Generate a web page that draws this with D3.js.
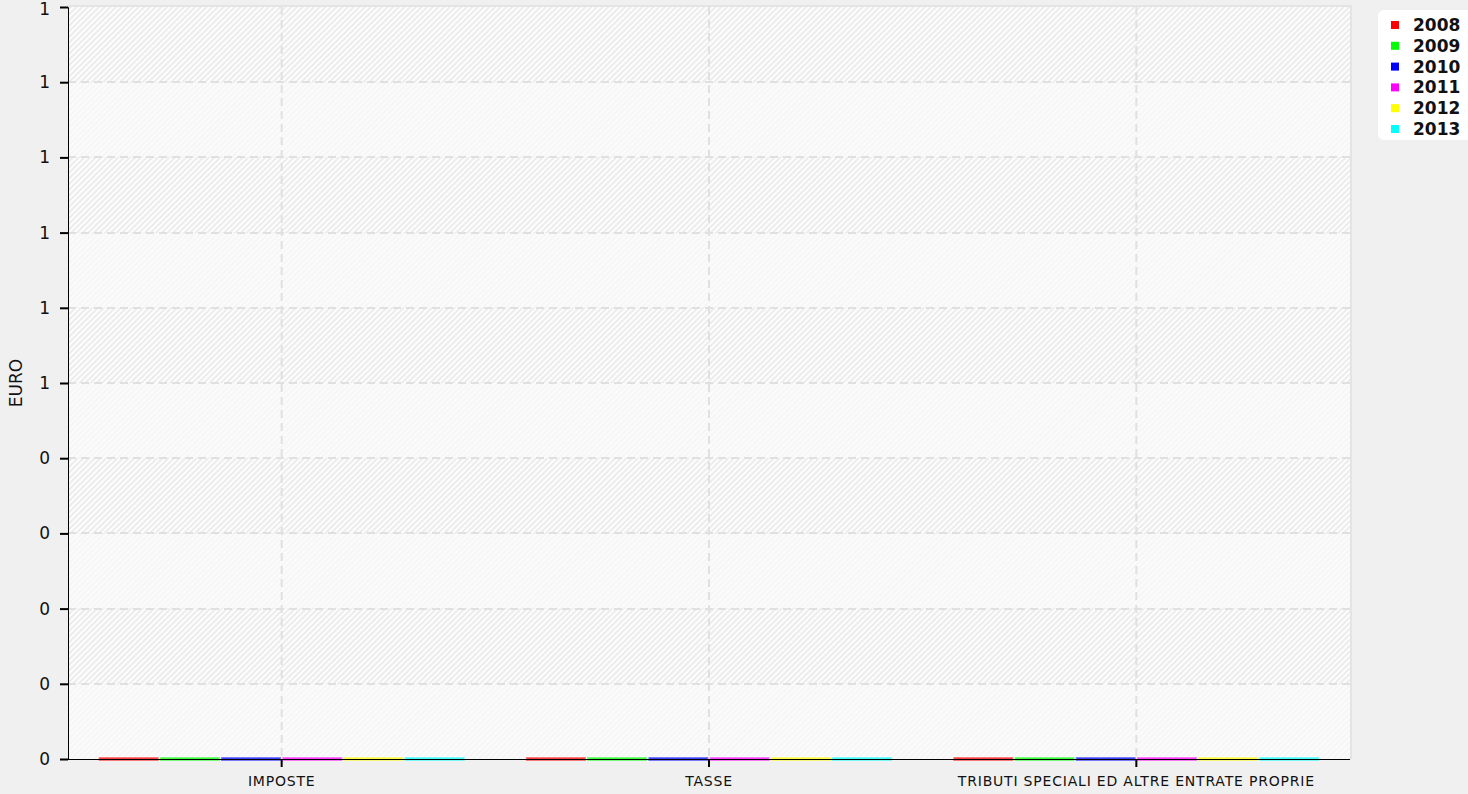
<!DOCTYPE html>
<html>
<head>
<meta charset="utf-8">
<script src="https://cdn.jsdelivr.net/npm/d3@7"></script>
<style>
  html, body { margin: 0; padding: 0; background: #f0f0f0; }
  svg { display: block; }
</style>
</head>
<body>
<svg id="chart" width="1468" height="794"></svg>
<script>
const categories = ["IMPOSTE", "TASSE", "TRIBUTI SPECIALI ED ALTRE ENTRATE PROPRIE"];
const years = ["2008", "2009", "2010", "2011", "2012", "2013"];
const colors = ["#ff0000", "#00ff00", "#0000ff", "#ff00ff", "#ffff00", "#00ffff"];
const values2008 = [0, 0, 0];
const values2009 = [0, 0, 0];
const values2010 = [0, 0, 0];
const values2011 = [0, 0, 0];
const values2012 = [0, 0, 0];
const values2013 = [0, 0, 0];
const yTicks = [0, 0.1, 0.2, 0.3, 0.4, 0.5, 0.6, 0.7, 0.8, 0.9, 1.0];
const yLabel = "EURO";

const series = [values2008, values2009, values2010, values2011, values2012, values2013];

const svg = d3.select("#chart");
const margin = { left: 68, top: 7, right: 118, bottom: 35 };
const W = 1468, H = 794;
const x0 = margin.left, x1 = W - margin.right, yTop = margin.top, yBot = H - margin.bottom;

const defs = svg.append("defs");
const pat = defs.append("pattern").attr("id", "hatch").attr("patternUnits", "userSpaceOnUse")
  .attr("width", 4).attr("height", 4).attr("patternTransform", "rotate(45)");
pat.append("rect").attr("width", 4).attr("height", 4).attr("fill", "#ececec");
pat.append("rect").attr("width", 2).attr("height", 4).attr("fill", "#fdfdfd");
const pat2 = defs.append("pattern").attr("id", "hatch2").attr("patternUnits", "userSpaceOnUse")
  .attr("width", 4).attr("height", 4).attr("patternTransform", "rotate(45)");
pat2.append("rect").attr("width", 4).attr("height", 4).attr("fill", "#f6f6f6");
pat2.append("rect").attr("width", 2).attr("height", 4).attr("fill", "#fbfbfb");

const y = d3.scaleLinear().domain([0, 1]).range([yBot, yTop]);
const xBand = d3.scaleBand().domain(categories).range([x0, x1]).paddingInner(0).paddingOuter(0);
const xInner = d3.scaleBand().domain(years).range([0, xBand.bandwidth()]).paddingOuter(0.5).paddingInner(0.02);

// plot border (light)
svg.append("rect").attr("x", x0).attr("y", yTop - 2).attr("width", x1 - x0 + 2).attr("height", yBot - yTop + 2)
  .attr("fill", "#e4e4e4");

// bands
for (let i = 0; i < yTicks.length - 1; i++) {
  const lo = yTicks[i], hi = yTicks[i + 1];
  svg.append("rect").attr("x", x0).attr("y", y(hi)).attr("width", x1 - x0).attr("height", y(lo) - y(hi))
    .attr("fill", i % 2 === 1 ? "url(#hatch)" : "url(#hatch2)");
}

// horizontal grid
svg.append("g").selectAll("line").data(yTicks.slice(1, -1)).join("line")
  .attr("x1", x0).attr("x2", x1).attr("y1", d => Math.round(y(d))).attr("y2", d => Math.round(y(d)))
  .attr("stroke", "#e0e0e0").attr("stroke-width", 2).attr("stroke-dasharray", "8,5");
// vertical grid
svg.append("g").selectAll("line").data(categories).join("line")
  .attr("x1", d => xBand(d) + xBand.bandwidth() / 2).attr("x2", d => xBand(d) + xBand.bandwidth() / 2)
  .attr("y1", yTop).attr("y2", yBot)
  .attr("stroke", "#e0e0e0").attr("stroke-width", 2).attr("stroke-dasharray", "8,5");

// bars
const g = svg.append("g");
categories.forEach((c, ci) => {
  years.forEach((yr, si) => {
    const v = series[si][ci];
    const bx = xBand(c) + xInner(yr);
    const top = y(v);
    g.append("rect").attr("x", bx).attr("y", top - 2).attr("width", xInner.bandwidth())
      .attr("height", Math.max(0, yBot - top) + 4)
      .attr("fill", colors[si]).attr("fill-opacity", 0.5);
    g.append("rect").attr("x", bx + 1).attr("y", top - 0.5).attr("width", xInner.bandwidth() - 2)
      .attr("height", Math.max(0, yBot - top) + 1.5)
      .attr("fill", colors[si]);
  });
});

// axes
const yAxis = d3.axisLeft(y).tickValues(yTicks).tickFormat(d3.format(".0f")).tickSize(8).tickPadding(10);
const ya = svg.append("g").attr("transform", `translate(${x0},0)`).call(yAxis);
ya.select(".domain").attr("stroke", "#000");
ya.selectAll(".tick line").attr("stroke", "#000").attr("stroke-width", 2);
ya.selectAll("text").attr("font-family", "DejaVu Sans").attr("font-size", 17).attr("fill", "#111");
ya.selectAll(".tick text").filter(d => d === 1).attr("dy", "0.42em");

const xAxis = d3.axisBottom(xBand).tickSize(8).tickPadding(9);
const xa = svg.append("g").attr("transform", `translate(0,${yBot})`).call(xAxis);
xa.select(".domain").attr("stroke", "#000").attr("d", `M${x0},0.5H${x1}`);
xa.selectAll(".tick line").attr("stroke", "#000").attr("stroke-width", 2);
xa.selectAll("text").attr("font-family", "DejaVu Sans").attr("font-size", 14)
  .attr("letter-spacing", "0.8px").attr("fill", "#111");

svg.append("text").attr("transform", `translate(22,${(yTop + yBot) / 2}) rotate(-90)`)
  .attr("text-anchor", "middle").attr("font-family", "DejaVu Sans").attr("font-size", 17)
  .attr("fill", "#111").text(yLabel);

// legend
const lg = svg.append("g").attr("transform", "translate(1378,10)");
lg.append("rect").attr("width", 100).attr("height", 130).attr("rx", 6).attr("fill", "#fff");
years.forEach((yr, i) => {
  const row = lg.append("g").attr("transform", `translate(0,${15 + i * 20.8})`);
  row.append("rect").attr("x", 13).attr("y", -4).attr("width", 8).attr("height", 8).attr("fill", colors[i]);
  row.append("text").attr("x", 35).attr("y", 6).attr("font-family", "DejaVu Sans").attr("font-size", 17)
    .attr("font-weight", "bold").attr("fill", "#111").text(yr);
});
</script>
</body>
</html>
